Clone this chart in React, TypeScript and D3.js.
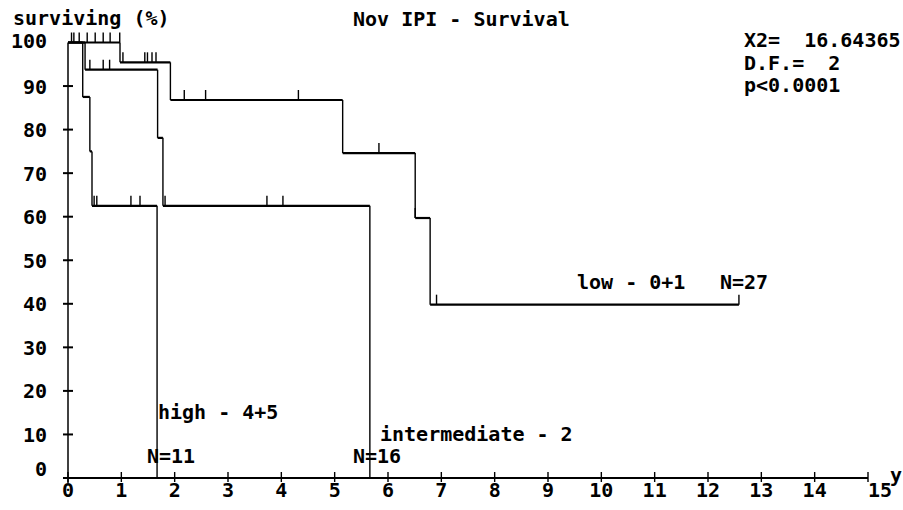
import React from "react";
import * as d3 from "d3";

// ---- data ----
const yearTicks = d3.range(0, 16);
const pctTicks = d3.range(0, 101, 10);

// high - 4+5 (N=11)
const highTimes = [0, 0.276, 0.41, 0.45, 1.67];
const highSurv = [100, 87.5, 75, 62.5, 0];
const highCensored = [0.066, 0.11, 0.21, 0.49, 0.54, 1.18, 1.35];
const highEnd = 1.67;

// intermediate - 2 (N=16)
const interTimes = [0, 0.32, 1.68, 1.78, 5.66];
const interSurv = [100, 93.75, 78.1, 62.5, 0];
const interCensored = [0.41, 0.66, 0.78, 1.82, 3.73, 4.03];
const interEnd = 5.66;

// low - 0+1 (N=27)
const lowTimes = [0, 0.975, 1.92, 5.15, 6.51, 6.79];
const lowSurv = [100, 95.45, 86.8, 74.6, 59.7, 39.8];
const lowCensored = [0.36, 0.51, 0.66, 0.79, 0.97, 1.03, 1.44, 1.49, 1.575, 1.65, 2.18, 2.58, 4.32, 5.83, 6.51, 6.91, 12.58];
const lowEnd = 12.58;

const statLines = ["X2=  16.64365", "D.F.=  2", "p<0.0001"];

const W = 903;
const H = 510;
const FONT = "'DejaVu Sans Mono', monospace";
const FS = 20;

const x = d3.scaleLinear().domain([0, 15]).range([68, 868]);
const y = d3.scaleLinear().domain([0, 100]).range([478, 42.5]);

function survAt(times: number[], surv: number[], t: number) {
  let v = surv[0];
  for (let i = 0; i < times.length; i++) if (times[i] <= t + 1e-9) v = surv[i];
  return v;
}

function Curve({ times, surv, end, censored }: { times: number[]; surv: number[]; end: number; censored: number[] }) {
  const hs: React.ReactNode[] = [];
  const vs: React.ReactNode[] = [];
  for (let i = 0; i < times.length; i++) {
    const t0 = times[i];
    const t1 = i + 1 < times.length ? times[i + 1] : end;
    if (t1 > t0 && surv[i] > 0) {
      hs.push(
        <line key={"h" + i} x1={x(t0)} x2={x(t1)} y1={y(surv[i])} y2={y(surv[i])} stroke="#000" strokeWidth={2.2} />
      );
    }
    if (i + 1 < times.length) {
      vs.push(
        <line key={"v" + i} x1={x(t1)} x2={x(t1)} y1={y(surv[i])} y2={y(surv[i + 1])} stroke="#000" strokeWidth={1.4} />
      );
    }
  }
  const ticks = censored.map((t, i) => {
    const v = survAt(times, surv, t);
    return <line key={"c" + i} x1={x(t)} x2={x(t)} y1={y(v)} y2={y(v) - 10} stroke="#000" strokeWidth={1.4} />;
  });
  return (
    <g>
      {hs}
      {vs}
      {ticks}
    </g>
  );
}

export default function App() {
  const textStyle: React.CSSProperties = { whiteSpace: "pre" };
  return (
    <svg
      width={W}
      height={H}
      style={{ position: "absolute", left: 0, top: 0, background: "#fff" }}
      fontFamily={FONT}
      fontSize={FS}
      fontWeight="bold"
    >
      <rect x={0} y={0} width={W} height={H} fill="#fff" />
      {/* titles */}
      <text x={13} y={25} style={textStyle}>surviving (%)</text>
      <text x={353} y={26} style={textStyle}>Nov IPI - Survival</text>
      {statLines.map((s, i) => (
        <text key={s} x={744} y={47 + i * 22.7} style={textStyle}>{s}</text>
      ))}

      {/* y axis */}
      <line x1={x(0)} x2={x(0)} y1={y(100)} y2={y(0) + 5} stroke="#000" strokeWidth={1.5} />
      {pctTicks.filter((p) => p > 0 && p < 100).map((p) => (
        <line key={"yt" + p} x1={x(0) - 5} x2={x(0) + 5} y1={y(p)} y2={y(p)} stroke="#000" strokeWidth={2} />
      ))}
      {pctTicks.map((p) => (
        <text
          key={"yl" + p}
          x={47}
          y={p === 0 ? y(p) - 2 : p === 100 ? y(p) + 5 : y(p) + 7.5}
          textAnchor="end"
        >
          {p}
        </text>
      ))}

      {/* x axis */}
      <line x1={x(0) - 5} x2={x(15)} y1={y(0)} y2={y(0)} stroke="#000" strokeWidth={2.2} />
      {yearTicks.map((t) => (
        <line key={"xt" + t} x1={x(t)} x2={x(t)} y1={y(0) - 6} y2={y(0) + 4} stroke="#000" strokeWidth={1.4} />
      ))}
      {yearTicks.map((t) => (
        <text key={"xl" + t} x={x(t)} y={497} textAnchor={t === 15 ? "start" : "middle"}>
          {t}
        </text>
      ))}
      <text x={890} y={482}>y</text>

      {/* curves */}
      <Curve times={highTimes} surv={highSurv} end={highEnd} censored={highCensored} />
      <Curve times={interTimes} surv={interSurv} end={interEnd} censored={interCensored} />
      <Curve times={lowTimes} surv={lowSurv} end={lowEnd} censored={lowCensored} />

      {/* curve labels */}
      <text x={158} y={419} style={textStyle}>high - 4+5</text>
      <text x={147} y={463} style={textStyle}>N=11</text>
      <text x={380} y={441} style={textStyle}>intermediate - 2</text>
      <text x={353} y={463} style={textStyle}>N=16</text>
      <text x={577} y={289} style={textStyle}>low - 0+1</text>
      <text x={720} y={289} style={textStyle}>N=27</text>
    </svg>
  );
}
